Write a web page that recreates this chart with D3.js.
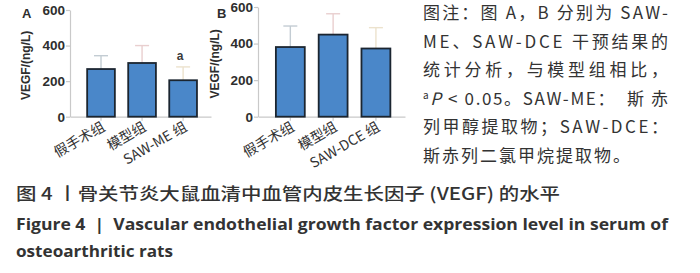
<!DOCTYPE html>
<html>
<head>
<meta charset="utf-8">
<script src="https://cdn.jsdelivr.net/npm/d3@7"></script>
<style>
  body { margin: 0; background: #fff; }
  svg { display: block; }
  svg text { white-space: pre; }
</style>
</head>
<body>
<div id="chart"></div>
<script>
// group labels and values
const groupsA = ["假手术组", "模型组", "SAW-ME 组"];
const meanA = [268, 302, 205];
const sdA = [75, 98, 75];
const sigA = ["", "", "a"];

const groupsB = ["假手术组", "模型组", "SAW-DCE 组"];
const meanB = [381, 449, 373];
const sdB = [115, 114, 114];
const sigB = ["", "", ""];

const yTicks = [0, 200, 400, 600];
const errColors = ["#c3ccd3", "#e9cfcf", "#ece2cd"];

const noteLines = [
  "图注：图 A，B 分别为 SAW-",
  "ME、SAW-DCE 干预结果的",
  "统计分析，与模型组相比，",
  "P < 0.05。SAW-ME：  斯 赤",
  "列甲醇提取物；SAW-DCE：",
  "斯赤列二氯甲烷提取物。"
];
const captionCn = "图 4 丨骨关节炎大鼠血清中血管内皮生长因子 (VEGF) 的水平";
const captionEn1 = "Figure 4  |  Vascular endothelial growth factor expression level in serum of";
const captionEn2 = "osteoarthritic rats";

const W = 700, H = 273;
const svg = d3.select("#chart").append("svg")
  .attr("width", W)
  .attr("height", H);

const panels = [
  { letter: "A", groups: groupsA, mean: meanA, sd: sdA, sig: sigA,
    x0: 70, x1: 211, yTop: 10, yBot: 116.7, letterX: 22, labX: 30 },
  { letter: "B", groups: groupsB, mean: meanB, sd: sdB, sig: sigB,
    x0: 258, x1: 405, yTop: 7, yBot: 116.7, letterX: 217, labX: 219 }
];

panels.forEach(p => {
  const g = svg.append("g");

  const x = d3.scaleBand()
    .domain(p.groups)
    .range([p.x0, p.x1])
    .paddingInner(0.325)
    .paddingOuter(0.38)
    .align(0.55);

  const y = d3.scaleLinear()
    .domain([0, 600])
    .range([p.yBot, p.yTop]);

  // y axis
  const yAx = g.append("g")
    .attr("transform", `translate(${p.x0},0)`)
    .call(d3.axisLeft(y).tickValues(yTicks).tickSize(4).tickSizeOuter(0));
  yAx.select(".domain").attr("stroke", "#c9c9c9").attr("stroke-width", 1.2);
  yAx.selectAll(".tick line").attr("stroke", "#c9c9c9").attr("stroke-width", 1.2);
  yAx.selectAll(".tick text")
    .attr("x", -5)
    .attr("fill", "#2e2e2e")
    .style("font-family", "'Liberation Sans', Arial, sans-serif")
    .style("font-weight", "bold")
    .style("font-size", "13.5px");

  // x axis
  const xAx = g.append("g")
    .attr("transform", `translate(0,${p.yBot})`)
    .call(d3.axisBottom(x).tickSize(4).tickSizeOuter(0).tickFormat(""));
  xAx.select(".domain").attr("stroke", "#c9c9c9").attr("stroke-width", 1.2);
  xAx.selectAll(".tick line").attr("stroke", "#c9c9c9").attr("stroke-width", 1.2);

  // category labels, rotated
  g.selectAll(".cat")
    .data(p.groups)
    .join("text")
    .attr("class", "cat")
    .attr("text-anchor", "end")
    .attr("transform", d => `translate(${x(d) + x.bandwidth() / 2 + 5},${p.yBot + 13}) rotate(-30)`)
    .attr("fill", "#333")
    .style("font-family", "'Noto Sans CJK SC', 'Open Sans', sans-serif")
    .style("font-size", "14px")
    .text(d => d);

  // error bars (upper only)
  const err = g.selectAll(".err")
    .data(p.groups)
    .join("g")
    .attr("class", "err")
    .attr("stroke", (d, i) => errColors[i])
    .attr("stroke-width", 1.4);
  err.append("line")
    .attr("x1", d => x(d) + x.bandwidth() / 2)
    .attr("x2", d => x(d) + x.bandwidth() / 2)
    .attr("y1", (d, i) => y(p.mean[i]))
    .attr("y2", (d, i) => y(p.mean[i] + p.sd[i]));
  err.append("line")
    .attr("x1", d => x(d) + x.bandwidth() / 2 - 7)
    .attr("x2", d => x(d) + x.bandwidth() / 2 + 7)
    .attr("y1", (d, i) => y(p.mean[i] + p.sd[i]))
    .attr("y2", (d, i) => y(p.mean[i] + p.sd[i]));

  // bars
  g.selectAll(".bar")
    .data(p.groups)
    .join("rect")
    .attr("class", "bar")
    .attr("x", d => x(d))
    .attr("width", x.bandwidth())
    .attr("y", (d, i) => y(p.mean[i]))
    .attr("height", (d, i) => y(0) - y(p.mean[i]))
    .attr("fill", "#4a87c9")
    .attr("stroke", "#1b2530")
    .attr("stroke-width", 1.8);

  // significance letters
  g.selectAll(".sig")
    .data(p.groups)
    .join("text")
    .attr("class", "sig")
    .attr("x", d => x(d) + x.bandwidth() / 2 - 3)
    .attr("y", (d, i) => y(p.mean[i] + p.sd[i]) - 7)
    .attr("text-anchor", "middle")
    .attr("fill", "#3a3a3a")
    .style("font-family", "'Liberation Sans', Arial, sans-serif")
    .style("font-weight", "bold")
    .style("font-size", "12px")
    .text((d, i) => p.sig[i]);

  // panel letter
  g.append("text")
    .attr("x", p.letterX)
    .attr("y", 18)
    .attr("fill", "#2e2e2e")
    .style("font-family", "'Liberation Sans', Arial, sans-serif")
    .style("font-weight", "bold")
    .style("font-size", "13px")
    .text(p.letter);

  // y label
  g.append("text")
    .attr("transform", `translate(${p.labX},${(p.yTop + p.yBot) / 2 + 2}) rotate(-90)`)
    .attr("text-anchor", "middle")
    .attr("fill", "#2e2e2e")
    .style("font-family", "'Liberation Sans', Arial, sans-serif")
    .style("font-weight", "bold")
    .style("font-size", "12px")
    .text("VEGF/(ng/L)");
});

// note on the right
const note = svg.append("g")
  .attr("fill", "#333")
  .style("font-family", "'Noto Sans CJK SC', sans-serif")
  .style("font-size", "17px");

noteLines.forEach((line, i) => {
  const t = note.append("text")
    .attr("x", 423)
    .attr("y", 19 + i * 28.6);
  if (i === 3) {
    t.append("tspan")
      .attr("dy", -6)
      .style("font-size", "10px")
      .text("a");
    t.append("tspan")
      .attr("dy", 6)
      .style("font-style", "italic")
      .text(line.slice(0, 1));
    t.append("tspan").text(line.slice(1));
  } else {
    t.text(line);
  }
  if (i < noteLines.length - 1) {
    t.attr("textLength", 245).attr("lengthAdjust", "spacing");
  } else {
    t.style("letter-spacing", "2px");
  }
});

// captions
svg.append("text")
  .attr("x", 16)
  .attr("y", 200)
  .attr("fill", "#333")
  .attr("textLength", 544)
  .attr("lengthAdjust", "spacingAndGlyphs")
  .style("font-family", "'Noto Sans CJK SC', sans-serif")
  .style("font-weight", "500")
  .style("font-size", "17px")
  .text(captionCn);

svg.append("text")
  .attr("x", 16)
  .attr("y", 230)
  .attr("fill", "#333")
  .attr("textLength", 652)
  .attr("lengthAdjust", "spacingAndGlyphs")
  .style("font-family", "'Open Sans', sans-serif")
  .style("font-weight", "bold")
  .style("font-size", "16px")
  .text(captionEn1);

svg.append("text")
  .attr("x", 16)
  .attr("y", 256.5)
  .attr("fill", "#333")
  .attr("textLength", 157)
  .attr("lengthAdjust", "spacingAndGlyphs")
  .style("font-family", "'Open Sans', sans-serif")
  .style("font-weight", "bold")
  .style("font-size", "16px")
  .text(captionEn2);
</script>
</body>
</html>
